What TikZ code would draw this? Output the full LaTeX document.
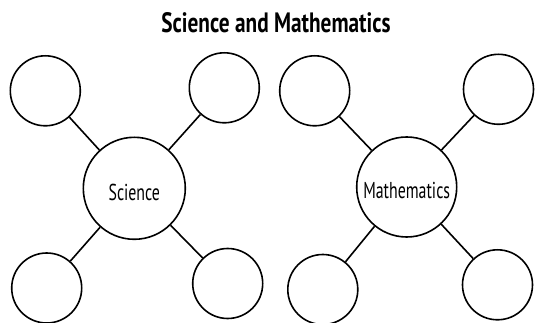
\documentclass[tikz,border=0pt]{standalone}
\usepackage{fontspec}
\setmainfont[FakeStretch=0.76]{PT Sans}
\newfontfamily\hublabelfont[FakeStretch=0.69]{PT Sans}
\begin{document}
\begin{tikzpicture}[x=1pt,y=-1pt,
  bubble/.style={circle,draw=black,line width=1.6pt,inner sep=0pt,fill=white},
  hub/.style={bubble,minimum size=102pt,text height=24pt,text depth=0pt,font=\hublabelfont\fontsize{23}{26}\selectfont},
  leaf/.style={bubble,minimum size=70pt},
  link/.style={draw=black,line width=1.6pt}]
\useasboundingbox (0,0) rectangle (544,323);
\node[font=\bfseries\fontsize{28}{32}\selectfont] (title) at (276,23) {Science and Mathematics};
% Science cluster
\node[hub] (sci) at (134.3,188.3) {Science};
\node[leaf] (s1) at (45.3,90.8) {};
\node[leaf] (s2) at (224.3,87.8) {};
\node[leaf] (s3) at (46.7,288) {};
\node[leaf] (s4) at (227.7,283.5) {};
% Mathematics cluster
\node[hub,minimum size=100pt] (mat) at (406.7,187) {Mathematics};
\node[leaf] (m1) at (314.7,90.8) {};
\node[leaf] (m2) at (498.5,89.3) {};
\node[leaf] (m3) at (322.8,289.5) {};
\node[leaf] (m4) at (497.5,284.8) {};
\draw[link] (sci) -- (s1);
\draw[link] (sci) -- (s2);
\draw[link] (sci) -- (s3);
\draw[link] (sci) -- (s4);
\draw[link] (mat) -- (m1);
\draw[link] (mat) -- (m2);
\draw[link] (mat) -- (m3);
\draw[link] (mat) -- (m4);
\end{tikzpicture}
\end{document}
